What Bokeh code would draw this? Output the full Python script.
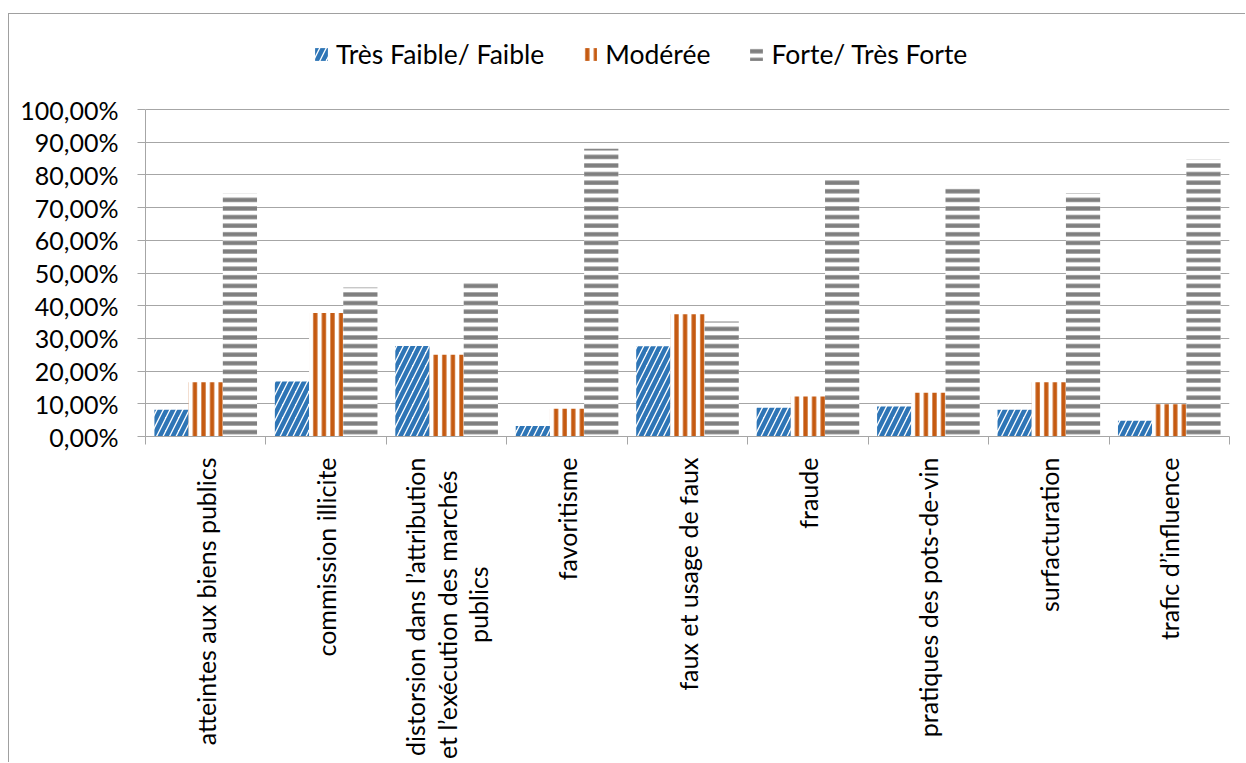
import math
from bokeh.plotting import figure
from bokeh.models import (Range1d, FixedTicker, CustomJSTickFormatter, Legend,
                          LegendItem)
from bokeh.embed import file_html
from bokeh.resources import INLINE

# Perception of corruption forms, share of answers per level
NBSP = "\u00a0"
categories = [
    "atteintes aux biens publics",
    "commission illicite",
    "distorsion dans l’attribution\net l’exécution des marchés" + NBSP * 2
    + "\npublics" + NBSP * 17,
    "favoritisme",
    "faux et usage de faux",
    "fraude",
    "pratiques des pots-de-vin",
    "surfacturation",
    "trafic d’influence",
]
series_names = ["Très Faible/ Faible", "Modérée", "Forte/ Très Forte"]
faible = [8.2, 16.8, 27.7, 3.2, 27.6, 8.8, 9.2, 8.2, 4.8]
moderee = [16.6, 37.8, 25.0, 8.5, 37.4, 12.2, 13.4, 16.6, 9.9]
forte = [74.2, 45.6, 47.3, 88.0, 35.2, 79.1, 76.8, 74.4, 84.9]
y_ticks = [0, 10, 20, 30, 40, 50, 60, 70, 80, 90, 100]

FONT = "Lato"
FS = "25px"
GRID = "#A6A6A6"
BLUE = "#2E75B6"
ORANGE = "#C55A11"
GRAY = "#7F7F7F"

n = len(categories)
bar_w = 0.284
centers = [i + 0.5 for i in range(n)]

# The frame reaches up into the legend strip; the axis and grid stop at 100 %.
frame_h = 402
scale_h = 327
y_top = 100 * frame_h / scale_h

p = figure(width=1237, height=749, output_backend="svg", toolbar_location=None,
           x_range=Range1d(0, n), y_range=Range1d(0, y_top),
           min_border_left=136, min_border_right=17,
           min_border_top=20, min_border_bottom=327)
p.styles = {"margin-left": "8px", "margin-top": "13px",
            "border-left": "1px solid #A0A0A0", "border-top": "1px solid #A0A0A0"}
p.background_fill_color = "white"
p.border_fill_color = "white"
p.outline_line_color = None

styles = [
    dict(values=faible, offset=-bar_w, pattern="/", color=BLUE, scale=13, weight=4.5),
    dict(values=moderee, offset=0.0, pattern="|", color=ORANGE, scale=8.6, weight=4.3),
    dict(values=forte, offset=bar_w, pattern="-", color=GRAY, scale=8.6, weight=4.3),
]
renderers = []
for s in styles:
    r = p.vbar(x=[c + s["offset"] for c in centers], top=s["values"], bottom=0,
               width=bar_w, fill_color="white", line_color=None,
               hatch_pattern=s["pattern"], hatch_color=s["color"],
               hatch_scale=s["scale"], hatch_weight=s["weight"])
    renderers.append(r)

# y axis
p.yaxis.ticker = FixedTicker(ticks=y_ticks)
p.yaxis.bounds = (0, 100)
p.yaxis.formatter = CustomJSTickFormatter(
    code="return tick.toFixed(2).replace('.', ',') + '%';")
p.yaxis.axis_line_color = GRID
p.yaxis.major_tick_line_color = GRID
p.yaxis.major_tick_out = 8
p.yaxis.major_tick_in = 0
p.yaxis.minor_tick_line_color = None
p.yaxis.major_label_standoff = 19
p.yaxis.major_label_text_font = FONT
p.yaxis.major_label_text_font_size = FS
p.yaxis.major_label_text_color = "black"

# x axis: labels at category centres, ticks at category boundaries
p.xaxis.ticker = FixedTicker(ticks=centers, minor_ticks=list(range(n + 1)))
p.xaxis.major_label_overrides = {c: lab for c, lab in zip(centers, categories)}
p.xaxis.major_label_orientation = math.pi / 2
p.xaxis.axis_line_color = GRID
p.xaxis.major_tick_line_color = None
p.xaxis.major_tick_out = 0
p.xaxis.major_tick_in = 0
p.xaxis.minor_tick_line_color = GRID
p.xaxis.minor_tick_out = 8
p.xaxis.minor_tick_in = 0
p.xaxis.major_label_standoff = 13
p.xaxis.major_label_text_font = FONT
p.xaxis.major_label_text_font_size = FS
p.xaxis.major_label_text_line_height = 1.05
p.xaxis.major_label_text_color = "black"

p.xgrid.grid_line_color = None
p.ygrid.ticker = FixedTicker(ticks=y_ticks)
p.ygrid.grid_line_color = GRID
p.ygrid.grid_line_width = 1

legend = Legend(
    items=[LegendItem(label=name, renderers=[r]) for name, r in zip(series_names, renderers)],
    orientation="horizontal", location=(168, 366),
    glyph_width=16, glyph_height=16, label_standoff=7, spacing=38,
    padding=0, margin=0, border_line_color=None, background_fill_alpha=0,
    label_text_font=FONT, label_text_font_size="26.5px", label_text_color="black",
)
p.add_layout(legend, "center")

open("out.html", "w").write(file_html(p, INLINE))
